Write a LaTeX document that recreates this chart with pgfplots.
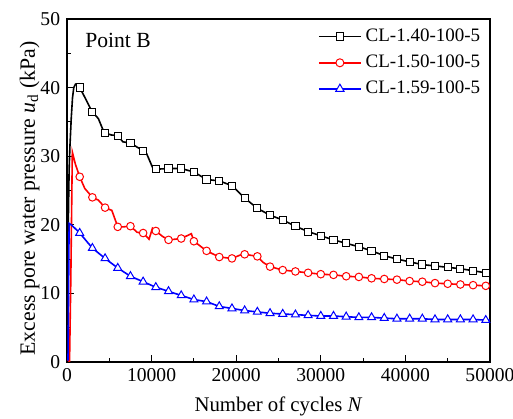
\documentclass[border=0pt]{standalone}
\usepackage{fontspec}
\setmainfont{Liberation Serif}
\usepackage{pgfplots}
\usepackage{pgfplotstable}
\pgfplotsset{compat=1.18}

\pgfplotstableread{
x y
0 0
60 5
150 20
250 28
350 31.5
500 35.5
650 38.5
800 40.0
1000 40.5
1200 40.4
1500 40.0
2100 38.6
3000 36.4
3700 35.5
4200 34.0
4500 33.4
5200 33.1
6000 33.0
6600 32.1
7500 31.9
9000 30.8
9400 30.4
10100 28.4
10500 28.1
12000 28.2
13500 28.2
15000 27.7
16500 26.6
18000 26.4
19500 25.7
21000 23.9
22500 22.4
24000 21.4
25500 20.7
27000 19.8
28500 19.0
30000 18.4
31500 17.8
33000 17.3
34500 16.8
36000 16.2
37500 15.5
39000 15.0
40500 14.6
42000 14.2
43500 14.0
45000 13.8
46500 13.6
48000 13.3
49500 13.0
50000 12.9
}\blackline

\pgfplotstableread{
x y
1500 40.0
3000 36.4
4500 33.4
6000 33.0
7500 31.9
9000 30.8
10500 28.1
12000 28.2
13500 28.2
15000 27.7
16500 26.6
18000 26.4
19500 25.7
21000 23.9
22500 22.4
24000 21.4
25500 20.7
27000 19.8
28500 19.0
30000 18.4
31500 17.8
33000 17.3
34500 16.8
36000 16.2
37500 15.5
39000 15.0
40500 14.6
42000 14.2
43500 14.0
45000 13.8
46500 13.6
48000 13.3
49500 13.0
}\blackmarks

\pgfplotstableread{
x y
0 0.5
300 0
450 12
630 30.6
1000 28.8
1500 27.0
2100 25.3
3000 24.0
3700 23.6
4500 22.5
5300 22.1
6000 19.7
6700 19.7
7500 19.8
8300 18.9
9000 18.8
9700 17.9
10100 19.5
10500 19.1
11300 18.3
12000 17.8
12800 17.9
13500 18.0
14700 18.7
15000 17.6
16500 16.2
18000 15.3
19500 15.1
20500 15.6
21000 15.7
22500 15.4
23200 14.5
24000 13.9
25500 13.4
27000 13.2
28500 13.0
30000 12.8
31500 12.7
33000 12.5
34500 12.4
36000 12.2
37500 12.1
39000 12.0
40500 11.8
42000 11.7
43500 11.5
45000 11.4
46500 11.3
48000 11.2
49500 11.1
50000 11.0
}\redline

\pgfplotstableread{
x y
1500 27.0
3000 24.0
4500 22.5
6000 19.7
7500 19.8
9000 18.8
10500 19.1
12000 17.8
13500 18.0
15000 17.6
16500 16.2
18000 15.3
19500 15.1
21000 15.7
22500 15.4
24000 13.9
25500 13.4
27000 13.2
28500 13.0
30000 12.8
31500 12.7
33000 12.5
34500 12.4
36000 12.2
37500 12.1
39000 12.0
40500 11.8
42000 11.7
43500 11.5
45000 11.4
46500 11.3
48000 11.2
49500 11.1
}\redmarks

\pgfplotstableread{
x y
0 1.2
120 0.2
250 20.2
600 19.9
1500 18.8
3000 16.6
4500 15.1
6000 13.7
7500 12.5
9000 11.7
10500 10.9
12000 10.3
13500 9.7
15000 9.1
16500 8.8
18000 8.1
19500 7.8
21000 7.5
22500 7.3
24000 7.1
25500 7.0
27000 6.9
28500 6.8
30000 6.7
31500 6.7
33000 6.6
34500 6.5
36000 6.5
37500 6.4
39000 6.3
40500 6.3
42000 6.3
43500 6.2
45000 6.2
46500 6.2
48000 6.2
49500 6.1
50000 6.1
}\blueline

\pgfplotstableread{
x y
1500 18.8
3000 16.6
4500 15.1
6000 13.7
7500 12.5
9000 11.7
10500 10.9
12000 10.3
13500 9.7
15000 9.1
16500 8.8
18000 8.1
19500 7.8
21000 7.5
22500 7.3
24000 7.1
25500 7.0
27000 6.9
28500 6.8
30000 6.7
31500 6.7
33000 6.6
34500 6.5
36000 6.5
37500 6.4
39000 6.3
40500 6.3
42000 6.3
43500 6.2
45000 6.2
46500 6.2
48000 6.2
49500 6.1
}\bluemarks

\begin{document}
\fontsize{9.8}{11.8}\selectfont
\begin{tikzpicture}
\begin{axis}[
  name=ax,
  at={(0,0)}, anchor=south west,
  scale only axis,
  width=211.5pt, height=171.5pt,
  font=\fontsize{9.8}{11.8}\selectfont,
  xmin=0, xmax=50000, ymin=0, ymax=50,
  xtick={0,10000,...,50000},
  ytick={0,10,...,50},
  minor x tick num=1, minor y tick num=1,
  tick pos=left, tick align=inside,
  major tick length=3.5pt, minor tick length=2pt,
  scaled x ticks=false,
  xticklabel style={/pgf/number format/.cd,fixed,1000 sep={}},
  /pgf/number format/assume math mode=true,
  axis line style={line width=0.6pt},
  every tick/.style={black, line width=0.5pt},
  xlabel={Number of cycles \textit{N}},
  ylabel={Excess pore water pressure \textit{u}\textsubscript{d} (kPa)},
  every axis x label/.style={at={(axis description cs:0.5,-0.143)}, anchor=base, font=\fontsize{10.4}{12}\selectfont},
  every axis y label/.style={at={(axis description cs:-0.128,0.477)}, rotate=90, anchor=north, font=\fontsize{10.9}{13}\selectfont},
  legend style={at={(rel axis cs:0.992,0.99)}, anchor=north east, draw=none, fill=none,
    font=\fontsize{9.5}{11.4}\selectfont, row sep=1.3pt, inner sep=1pt,
    /tikz/every even column/.append style={column sep=0pt}},
  legend cell align=left,
  legend image code/.code={\draw[mark repeat=2,mark phase=2,#1] plot coordinates {(0pt,0pt)(10.5pt,0pt)(21pt,0pt)};},
]
\addplot[black, line width=0.8pt, forget plot] table {\blackline};
\addplot[only marks, mark=square*, mark size=1.8pt, mark options={fill=white, draw=black, line width=0.5pt}, forget plot] table {\blackmarks};
\addplot[red, line width=0.8pt, forget plot] table {\redline};
\addplot[only marks, mark=*, mark size=1.9pt, mark options={fill=white, draw=red, line width=0.5pt}, forget plot] table {\redmarks};
\addplot[blue, line width=0.8pt, forget plot] table {\blueline};
\addplot[only marks, mark=triangle*, mark size=2.3pt, mark options={fill=white, draw=blue, line width=0.5pt}, forget plot] table {\bluemarks};
\addlegendimage{black, line width=0.8pt, mark=square*, mark size=1.9pt, mark options={fill=white, line width=0.5pt}}
\addlegendentry{CL-1.40-100-5}
\addlegendimage{red, line width=0.8pt, mark=*, mark size=2pt, mark options={fill=white, line width=0.5pt}}
\addlegendentry{CL-1.50-100-5}
\addlegendimage{blue, line width=0.8pt, mark=triangle*, mark size=2.4pt, mark options={fill=white, line width=0.5pt}}
\addlegendentry{CL-1.59-100-5}
\node[anchor=base west, font=\fontsize{10.8}{13}\selectfont] at (axis cs:1350,45.9) {Point B};
\node[anchor=base, font=\fontsize{12}{14}\selectfont] at ([yshift=6.5pt]rel axis cs:0.463,1) {(a) Axial strain};
\end{axis}
\pgfresetboundingbox
\useasboundingbox ([xshift=-33.5pt,yshift=-28.5pt]ax.south west) rectangle ([xshift=11.5pt,yshift=9.5pt]ax.north east);
\end{tikzpicture}
\end{document}
